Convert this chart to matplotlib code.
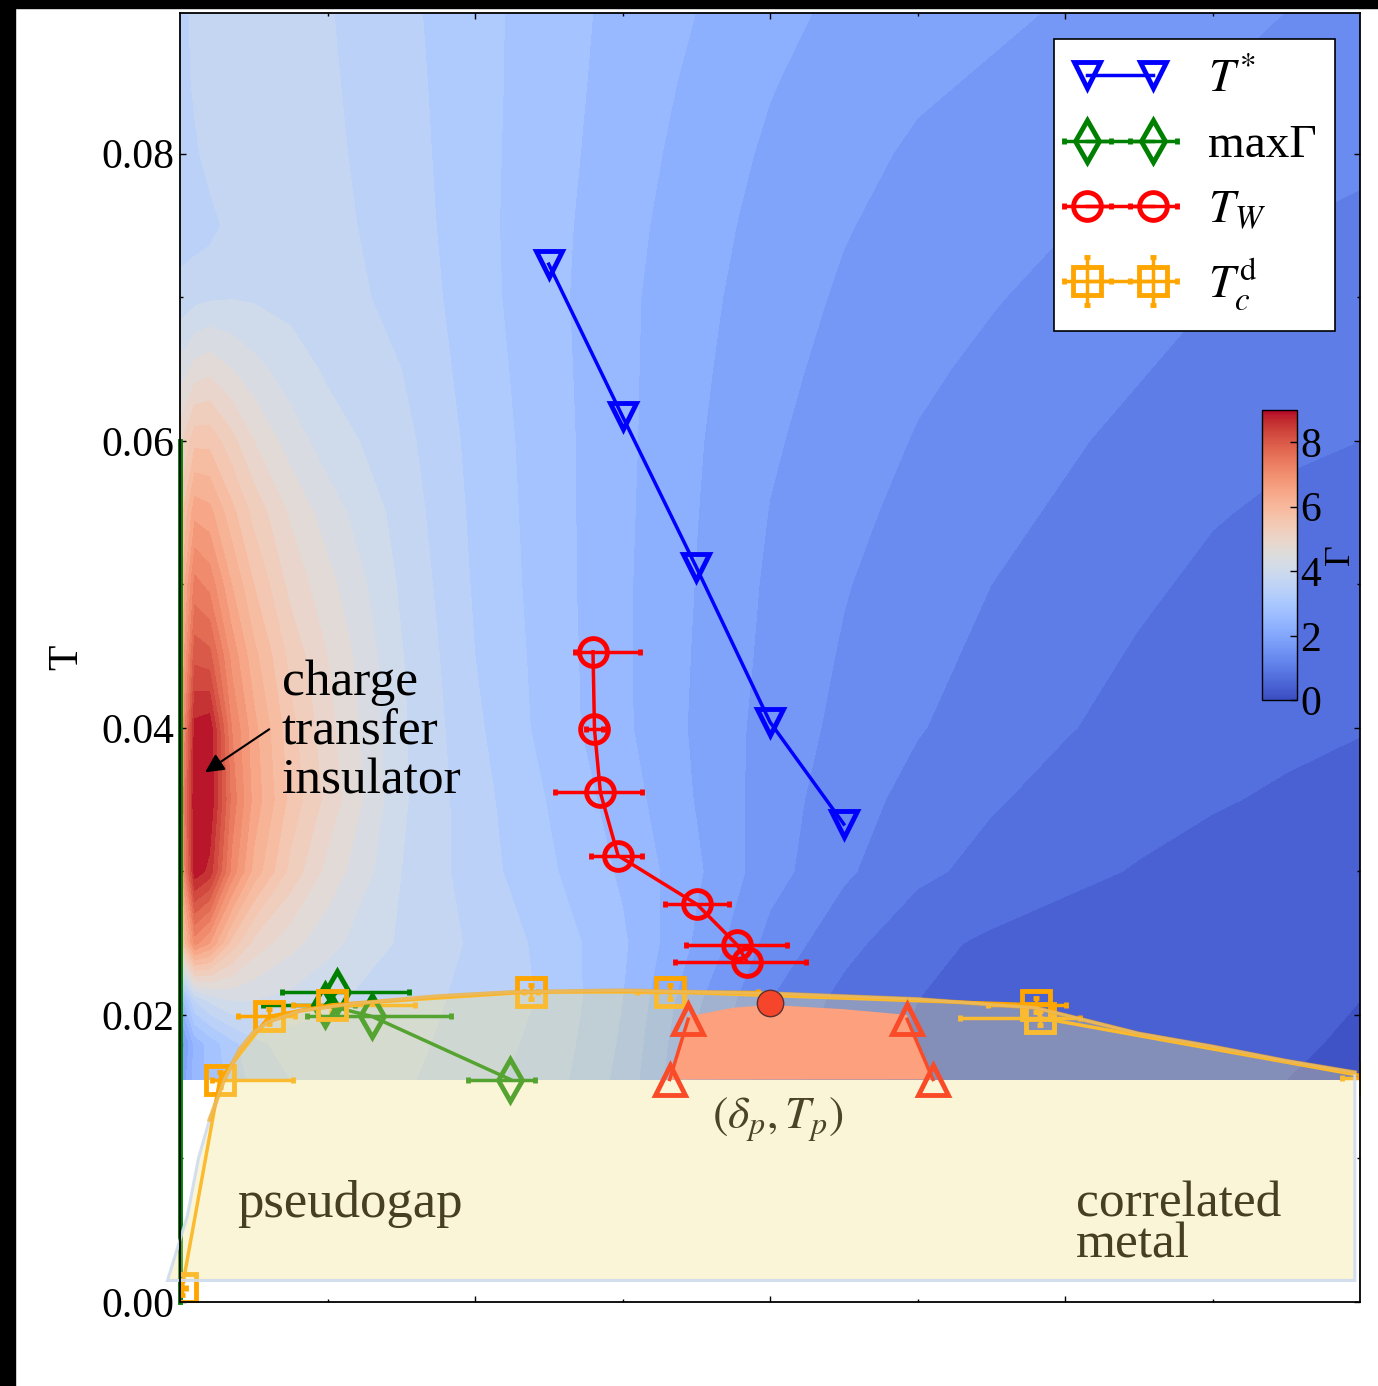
import numpy as np
import matplotlib
matplotlib.use('Agg')
import matplotlib.pyplot as plt
from matplotlib.patches import Polygon, Rectangle
from matplotlib.colors import Normalize, to_rgba
from matplotlib.cm import ScalarMappable

plt.rcParams['font.family'] = ['Liberation Serif', 'DejaVu Serif']
plt.rcParams['mathtext.fontset'] = 'stix'

# ---------------- data ----------------
grid_delta = [0, 0.002, 0.004, 0.007, 0.01, 0.015, 0.02, 0.03, 0.04, 0.05, 0.06,
              0.07, 0.08, 0.09, 0.10, 0.11, 0.12, 0.13, 0.14, 0.15, 0.16]
grid_T = [0.0155, 0.018, 0.021, 0.025, 0.03, 0.035, 0.04, 0.045, 0.05, 0.055,
          0.06, 0.065, 0.07, 0.075, 0.08, 0.085, 0.09]
gamma_rows = [
    [1.8, 2.5, 2.8, 3.1, 3.4, 3.6, 3.7, 3.65, 3.4, 3.15, 2.6, 1.7, 1.05, 0.7, 0.53, 0.45, 0.39, 0.35, 0.32, 0.3, 0.28],
    [1.5, 2.5, 2.8, 3.2, 3.5, 3.75, 3.8, 3.7, 3.45, 3.2, 2.65, 1.75, 1.1, 0.75, 0.56, 0.47, 0.41, 0.36, 0.33, 0.31, 0.29],
    [2.4, 3.6, 3.95, 4.2, 4.2, 4.1, 3.95, 3.75, 3.5, 3.25, 2.7, 1.85, 1.2, 0.8, 0.6, 0.5, 0.43, 0.38, 0.35, 0.32, 0.3],
    [5.4, 7.0, 6.6, 5.6, 5.0, 4.6, 4.3, 3.85, 3.55, 3.2, 2.75, 2.05, 1.4, 1.0, 0.68, 0.55, 0.47, 0.41, 0.37, 0.34, 0.31],
    [6.3, 8.9, 8.6, 7.1, 6.2, 5.3, 4.7, 3.9, 3.45, 3.05, 2.65, 2.15, 1.62, 1.25, 0.97, 0.8, 0.67, 0.58, 0.52, 0.47, 0.44],
    [6.6, 9.0, 9.0, 7.4, 6.5, 5.6, 5.0, 3.95, 3.42, 2.98, 2.55, 2.08, 1.65, 1.33, 1.1, 0.93, 0.8, 0.7, 0.62, 0.57, 0.53],
    [6.3, 8.8, 8.9, 7.2, 6.4, 5.5, 4.9, 3.95, 3.36, 2.88, 2.46, 2.05, 1.68, 1.42, 1.22, 1.06, 0.92, 0.8, 0.71, 0.65, 0.61],
    [6.0, 8.0, 7.9, 6.8, 6.1, 5.3, 4.8, 3.92, 3.3, 2.87, 2.45, 2.07, 1.72, 1.47, 1.29, 1.13, 1.0, 0.87, 0.77, 0.7, 0.67],
    [5.8, 7.3, 7.1, 6.3, 5.7, 5.0, 4.6, 3.85, 3.26, 2.85, 2.45, 2.09, 1.75, 1.52, 1.34, 1.2, 1.07, 0.95, 0.84, 0.77, 0.74],
    [5.5, 6.5, 6.4, 5.8, 5.3, 4.75, 4.35, 3.78, 3.23, 2.84, 2.46, 2.11, 1.79, 1.58, 1.41, 1.28, 1.16, 1.04, 0.92, 0.85, 0.82],
    [5.0, 5.6, 5.6, 5.2, 4.8, 4.35, 4.05, 3.7, 3.2, 2.83, 2.47, 2.13, 1.84, 1.64, 1.48, 1.36, 1.24, 1.12, 1.01, 0.94, 0.9],
    [4.3, 4.6, 4.7, 4.5, 4.3, 4.05, 3.85, 3.6, 3.16, 2.81, 2.47, 2.16, 1.89, 1.7, 1.55, 1.44, 1.33, 1.22, 1.1, 1.02, 0.97],
    [3.7, 3.8, 3.85, 3.88, 3.86, 3.8, 3.7, 3.53, 3.12, 2.79, 2.47, 2.19, 1.94, 1.76, 1.62, 1.52, 1.42, 1.32, 1.2, 1.11, 1.06],
    [3.45, 3.45, 3.5, 3.7, 3.78, 3.78, 3.68, 3.48, 3.1, 2.8, 2.5, 2.23, 1.99, 1.82, 1.69, 1.6, 1.51, 1.41, 1.3, 1.2, 1.15],
    [3.5, 3.55, 3.7, 3.75, 3.75, 3.75, 3.66, 3.44, 3.1, 2.82, 2.54, 2.28, 2.05, 1.88, 1.76, 1.68, 1.6, 1.5, 1.4, 1.31, 1.25],
    [3.45, 3.65, 3.75, 3.75, 3.75, 3.75, 3.64, 3.41, 3.1, 2.84, 2.57, 2.34, 2.12, 1.95, 1.84, 1.77, 1.69, 1.6, 1.5, 1.41, 1.35],
    [3.45, 3.7, 3.75, 3.75, 3.75, 3.75, 3.62, 3.38, 3.1, 2.85, 2.6, 2.4, 2.2, 2.03, 1.92, 1.85, 1.78, 1.68, 1.6, 1.5, 1.44],
]
gamma_levels = np.linspace(0, 9, 31)
cbar_ticks = [0, 2, 4, 6, 8]

tstar_delta = [0.05, 0.06, 0.07, 0.08, 0.09]
tstar_T = [0.0723, 0.0617, 0.0512, 0.0404, 0.0333]

maxg_delta = [0.0213, 0.0197, 0.0260, 0.0448]
maxg_T = [0.0216, 0.0207, 0.0199, 0.0155]
maxg_err_lo = [0.0075, 0.0085, 0.0088, 0.0058]
maxg_err_hi = [0.0098, 0.0040, 0.0108, 0.0034]
mott_line_T = [0.0, 0.06]

tw_delta = [0.0560, 0.0562, 0.0570, 0.0594, 0.0701, 0.0755, 0.0769]
tw_T = [0.0453, 0.0399, 0.0355, 0.0311, 0.0277, 0.0249, 0.0237]
tw_err_lo = [0.0024, 0.0011, 0.0062, 0.0037, 0.0043, 0.0069, 0.0098]
tw_err_hi = [0.0064, 0.0011, 0.0056, 0.0033, 0.0043, 0.0068, 0.0080]

tc_delta = [0.0003, 0.0054, 0.0121, 0.0206, 0.0476, 0.0665, 0.1160, 0.1166, 0.1620]
tc_T = [0.0010, 0.0155, 0.0199, 0.0207, 0.0216, 0.0216, 0.0207, 0.0198, 0.0156]
tc_err_lo = [0.0005, 0.0010, 0.0043, 0.0053, 0.0010, 0.0045, 0.0064, 0.0108, 0.0045]
tc_err_hi = [0.0005, 0.0099, 0.0035, 0.0113, 0.0010, 0.0119, 0.0041, 0.0054, 0.0010]
tc_yerr = [0.0005, 0.0005, 0.0005, 0.0005, 0.0005, 0.0005, 0.0005, 0.0005, 0.0005]

tcfit_delta = [-0.0017, 0.0010, 0.0025, 0.0040, 0.0060, 0.0081, 0.0100, 0.0119, 0.0163,
               0.0237, 0.035, 0.0457, 0.06, 0.08, 0.10, 0.116, 0.13, 0.14, 0.15, 0.1593]
tcfit_T = [0.0015, 0.0060, 0.0100, 0.0127, 0.0155, 0.0176, 0.0188, 0.0195, 0.0203,
           0.0208, 0.0213, 0.0216, 0.0217, 0.0215, 0.0211, 0.0205, 0.0187, 0.0178, 0.0168, 0.0160]
dome_floor_T = 0.0015

wedge_delta = [0.0664, 0.0689, 0.075, 0.080, 0.090, 0.0986, 0.1021]
wedge_T = [0.0155, 0.0199, 0.0205, 0.0207, 0.0204, 0.0200, 0.0155]
tri_left_delta = [0.0664, 0.0689]
tri_left_T = [0.0155, 0.0197]
tri_right_delta = [0.0986, 0.1021]
tri_right_T = [0.0197, 0.0155]
peak_delta = [0.080]
peak_T = [0.0208]

# ---------------- figure ----------------
W, H = 1378, 1386
fig = plt.figure(figsize=(W / 100, H / 100), dpi=100)
fig.patches.append(Rectangle((0, 0), 15 / W, 1, transform=fig.transFigure,
                             color='black', zorder=-5))
fig.patches.append(Rectangle((0, 1 - 8 / H), 1, 8 / H, transform=fig.transFigure,
                             color='black', zorder=-5))

ax = fig.add_axes([180 / W, 1 - 1302 / H, 1180 / W, 1289 / H])
ax.set_xlim(0, 0.16)
ax.set_ylim(0, 0.0898)

D, TT = np.meshgrid(grid_delta, grid_T)
ax.contourf(D, TT, np.array(gamma_rows), levels=gamma_levels, cmap='coolwarm',
            vmin=0, vmax=9, zorder=0.5)

# data series
h_tstar, = ax.plot(tstar_delta, tstar_T, color='blue', marker='v', ms=19, mew=3.5,
                   mfc='none', lw=2.5, zorder=3)

ax.plot([0, 0], mott_line_T, color='green', lw=3.5, zorder=3, clip_on=False)
h_maxg = ax.errorbar(maxg_delta, maxg_T, xerr=[maxg_err_lo, maxg_err_hi], color='green',
                     marker='d', ms=21, mew=3.5, mfc='none', lw=2.5, elinewidth=2.5,
                     capsize=2.5, capthick=3.5, zorder=3)

h_tw = ax.errorbar(tw_delta, tw_T, xerr=[tw_err_lo, tw_err_hi], color='red',
                   marker='o', ms=20, mew=3.5, mfc='none', lw=2.5, elinewidth=2.5,
                   capsize=2.5, capthick=3.5, zorder=3)

h_tc = ax.errorbar(tc_delta, tc_T, xerr=[tc_err_lo, tc_err_hi], yerr=tc_yerr,
                   color='orange', marker='s', ms=20, mew=3.5, mfc='none', lw=2.5,
                   elinewidth=2.5, capsize=2.5, capthick=3.5, zorder=3)

# translucent dome
dome_verts = list(zip(tcfit_delta, tcfit_T)) + [(tcfit_delta[-1], dome_floor_T)]
dome = Polygon(dome_verts, closed=True, facecolor=to_rgba('#F4E58D', 0.35),
               edgecolor=to_rgba('#CFDCEE', 0.9), lw=2.2, zorder=4, clip_on=False)
ax.add_patch(dome)
ax.plot(tcfit_delta[3:], tcfit_T[3:], color='orange', alpha=0.6, lw=3, zorder=4.5)

# wedge region
wedge = Polygon(list(zip(wedge_delta, wedge_T)), closed=True, facecolor='#FCA07D',
                edgecolor='none', zorder=4.6)
ax.add_patch(wedge)
for dx, ty in [(tri_left_delta, tri_left_T), (tri_right_delta, tri_right_T)]:
    ax.plot(dx, ty, color='#FA4B28', marker='^', ms=21, mew=3.5, mfc='none', lw=2.5,
            zorder=4.8)
ax.plot(peak_delta, peak_T, 'o', ms=19, mfc='#F5452A', mec='#5a3030', mew=1, zorder=5)

# annotations
ax.text(0.0138, 0.0397, 'charge\ntransfer\ninsulator', fontsize=37, ha='left',
        va='center', linespacing=1.07, zorder=6)
ax.annotate('', xy=(0.0034, 0.0369), xytext=(0.0121, 0.0399),
            arrowprops=dict(arrowstyle='-|>', color='black', lw=1.5, mutation_scale=28,
                            shrinkA=0, shrinkB=0), zorder=6)
ax.text(0.0078, 0.0059, 'pseudogap', fontsize=38, ha='left', va='baseline',
        color='#463f22', zorder=6)
ax.text(0.1215, 0.0031, 'correlated\nmetal', fontsize=37, ha='left', va='baseline',
        color='#463f22', linespacing=0.85, zorder=6)
ax.text(0.0811, 0.0127, r'$(\delta_p,T_p)$', fontsize=33, ha='center', va='center',
        color='#4b4428', zorder=6)

# axes styling
ax.set_yticks([0.0, 0.02, 0.04, 0.06, 0.08])
ax.set_yticklabels(['0.00', '0.02', '0.04', '0.06', '0.08'])
ax.set_yticks(np.arange(0.01, 0.09, 0.02), minor=True)
ax.set_xticks([0.04, 0.08, 0.12])
ax.set_xticks([0.02, 0.06, 0.10, 0.14], minor=True)
ax.tick_params(axis='both', which='both', direction='in', top=True, right=True)
ax.tick_params(axis='both', which='major', length=4, width=1)
ax.tick_params(axis='both', which='minor', length=2.5, width=1)
ax.tick_params(axis='y', labelsize=30, pad=4)
ax.tick_params(axis='x', labelbottom=False)
ax.set_ylabel('T', fontsize=30, labelpad=11)
for s in ax.spines.values():
    s.set_linewidth(1.3)
    s.set_zorder(7)

leg = ax.legend([h_tstar, h_maxg, h_tw, h_tc],
                [r'$T^{*}$', 'maxΓ', r'$T_W$', r'$T_c^{\mathrm{d}}$'],
                loc='upper right', bbox_to_anchor=(0.979, 0.98), borderaxespad=0,
                fontsize=34, numpoints=2, handlelength=2.0, handletextpad=0.85,
                labelspacing=0.48, borderpad=0.4, fancybox=False, framealpha=1,
                edgecolor='black')
leg.set_zorder(10)
leg.get_frame().set_linewidth(1.2)

# colorbar
cax = ax.inset_axes([0.917, 0.4667, 0.0297, 0.2256])
sm = ScalarMappable(norm=Normalize(0, 9), cmap='coolwarm')
cb = fig.colorbar(sm, cax=cax, ticks=cbar_ticks)
cb.ax.tick_params(direction='in', labelsize=30, length=5, width=1, pad=2)
cb.set_label('Γ', fontsize=26, labelpad=2)
cb.outline.set_linewidth(1)

fig.savefig('out.png', dpi=100)
